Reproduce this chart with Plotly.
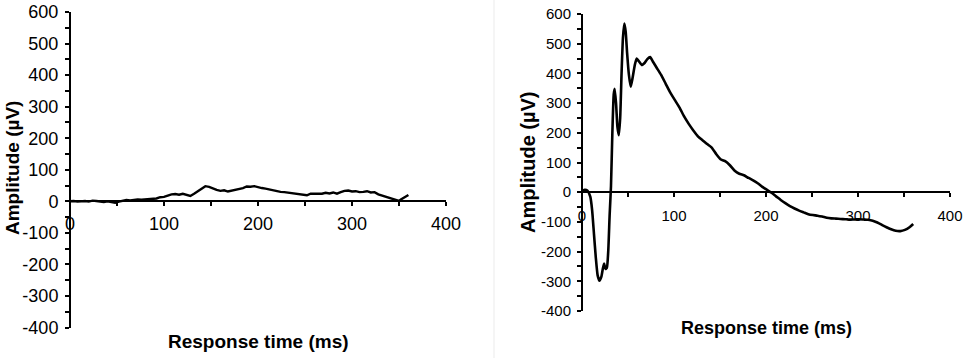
import plotly.graph_objects as go

# Left panel (small response)
left_ms = [0, 4, 8, 12, 16, 20, 24, 28, 32, 36, 40, 44, 48, 52, 56, 60, 64, 68, 72, 76, 80, 84, 88, 92, 96,
           100, 104, 108, 112, 116, 120, 124, 128, 132, 136, 140, 144, 148, 152, 156, 160, 164, 168, 172, 176,
           180, 184, 188, 192, 196, 200, 204, 208, 212, 216, 220, 224, 228, 232, 236, 240, 244, 248, 252, 256,
           260, 264, 268, 272, 276, 280, 284, 288, 292, 296, 300, 304, 308, 312, 316, 320, 324, 328, 332, 336,
           340, 344, 348, 350, 352, 356, 360]
left_uv = [0, 1, -1, 0, 1, -1, 2, 1, 0, -2, 0, -2, -5, -1, 2, 4, 3, 5, 6, 5, 6, 5, 7, 9, 13,
           14, 18, 22, 23, 21, 24, 20, 17, 24, 32, 42, 48, 46, 40, 36, 33, 35, 31, 34, 37,
           38, 42, 47, 46, 48, 44, 42, 40, 37, 35, 32, 30, 29, 27, 26, 24, 22, 21, 19, 24,
           24, 25, 24, 27, 25, 28, 24, 29, 33, 34, 31, 32, 29, 30, 32, 28, 29, 22, 18, 14,
           12, 6, 3, 1, 6, 14, 20]

# Right panel (large response)
right_ms = [0, 3, 6, 9, 11, 13, 15, 17, 19, 21, 22.5, 24, 25.5, 27, 28.5, 30, 31.5, 33, 34.5, 35.5, 37, 38.5,
            40, 41.5, 43, 44.5, 46, 47.5, 49, 51, 53, 55, 57.5, 59.5, 62, 65, 68, 71, 74, 77, 81, 86, 91, 96,
            101, 106, 111, 116, 121, 126, 131, 136, 141, 146, 151, 156, 161, 166, 171, 176, 181, 186, 191, 196,
            201, 206, 211, 216, 221, 226, 231, 236, 241, 246, 251, 256, 261, 266, 271, 276, 281, 286, 291, 296,
            301, 306, 311, 316, 321, 326, 331, 336, 341, 346, 351, 356, 360]
right_uv = [3, 8, 5, -15, -60, -140, -220, -280, -298, -285, -260, -240, -258, -255, -200, -80, 20, 200, 330, 348,
            300, 220, 192, 250, 400, 520, 568, 540, 470, 395, 355, 385, 430, 450, 440, 428, 435, 448, 455, 440,
            420, 395, 365, 335, 310, 285, 255, 230, 208, 188, 175, 162, 150, 128, 110, 104, 90, 72, 62, 57, 48,
            40, 30, 18, 8, -2, -14, -26, -37, -47, -55, -62, -68, -74, -77, -79, -82, -86, -88, -89, -90, -91,
            -92, -92, -91, -92, -93, -96, -102, -110, -118, -125, -130, -131, -127, -118, -107]

x_ticks = [0, 100, 200, 300, 400]
y_ticks = [-400, -300, -200, -100, 0, 100, 200, 300, 400, 500, 600]
y_tick_labels = ["-400", "-300", "-200", "-100", "0", "100", "200", "300", "400", "500", "600"]
x_title = "Response time (ms)"
y_title = "Amplitude (µV)"

W, H = 965, 358
FONT = "Liberation Sans, Arial, sans-serif"

fig = go.Figure()
fig.add_trace(go.Scatter(x=left_ms, y=left_uv, mode="lines", line=dict(color="black", width=2.4),
                         xaxis="x", yaxis="y", showlegend=False))
fig.add_trace(go.Scatter(x=right_ms, y=right_uv, mode="lines", line=dict(color="black", width=2.6, shape="spline", smoothing=0.5),
                         xaxis="x2", yaxis="y2", showlegend=False))

def px_x(p):
    return p / W

def px_y(p):
    return (H - p) / H

def xaxis(domain, pos, size, standoff):
    return dict(domain=domain, anchor="free", position=pos, range=[0, 400], tickvals=x_ticks,
                automargin=False,
                showline=True, linecolor="black", linewidth=2, ticks="outside", ticklen=4,
                tickwidth=1.5, tickcolor="black", showgrid=False, zeroline=False,
                minor=dict(dtick=50, tick0=0, ticks="outside", ticklen=4, tickwidth=1.5, tickcolor="black"),
                tickfont=dict(family=FONT, size=size, color="black"), ticklabelstandoff=standoff)

def yaxis(domain, xpos, size):
    return dict(domain=domain, anchor="free", position=xpos, range=[-400, 600], tickvals=y_ticks,
                ticktext=y_tick_labels, automargin=False,
                showline=True, linecolor="black", linewidth=2, ticks="outside", ticklen=4,
                tickwidth=1.5, tickcolor="black", showgrid=False, zeroline=False,
                minor=dict(dtick=50, tick0=0, ticks="outside", ticklen=4, tickwidth=1.5, tickcolor="black"),
                tickfont=dict(family=FONT, size=size, color="black"), ticklabelstandoff=3)

lx = [px_x(70), px_x(446)]
ly = [px_y(327.5), px_y(12)]
rx = [px_x(582), px_x(950)]
ry = [px_y(311), px_y(14)]

fig.update_layout(
    width=W, height=H, margin=dict(l=0, r=0, t=0, b=0, autoexpand=False),
    paper_bgcolor="white", plot_bgcolor="white",
    xaxis=xaxis(lx, px_y(201.3), 18, 2),
    yaxis=yaxis(ly, lx[0], 18),
    xaxis2=xaxis(rx, px_y(192.2), 15, 6),
    yaxis2=yaxis(ry, rx[0], 15),
    annotations=[
        dict(text=f"<b>{x_title}</b>", x=px_x(258.5), y=px_y(341.5), xref="paper", yref="paper",
             showarrow=False, font=dict(family=FONT, size=19, color="black"), xanchor="center", yanchor="middle"),
        dict(text=f"<b>{y_title}</b>", x=px_x(12.5), y=px_y(168.5), xref="paper", yref="paper",
             showarrow=False, textangle=-90, font=dict(family=FONT, size=19, color="black"),
             xanchor="center", yanchor="middle"),
        dict(text=f"<b>{x_title}</b>", x=px_x(766.7), y=px_y(328), xref="paper", yref="paper",
             showarrow=False, font=dict(family=FONT, size=18, color="black"), xanchor="center", yanchor="middle"),
        dict(text=f"<b>{y_title}</b>", x=px_x(527.5), y=px_y(162.5), xref="paper", yref="paper",
             showarrow=False, textangle=-90, font=dict(family=FONT, size=20, color="black"),
             xanchor="center", yanchor="middle"),
    ],
    shapes=[dict(type="line", xref="paper", yref="paper", x0=px_x(494), x1=px_x(494), y0=0, y1=1,
                 line=dict(color="#ebebeb", width=1))],
)

fig.write_html(
    "out.html",
    config={"displayModeBar": False},
    post_script="document.body.style.margin='0';document.body.style.padding='0';"
                "document.documentElement.style.overflow='hidden';",
)
